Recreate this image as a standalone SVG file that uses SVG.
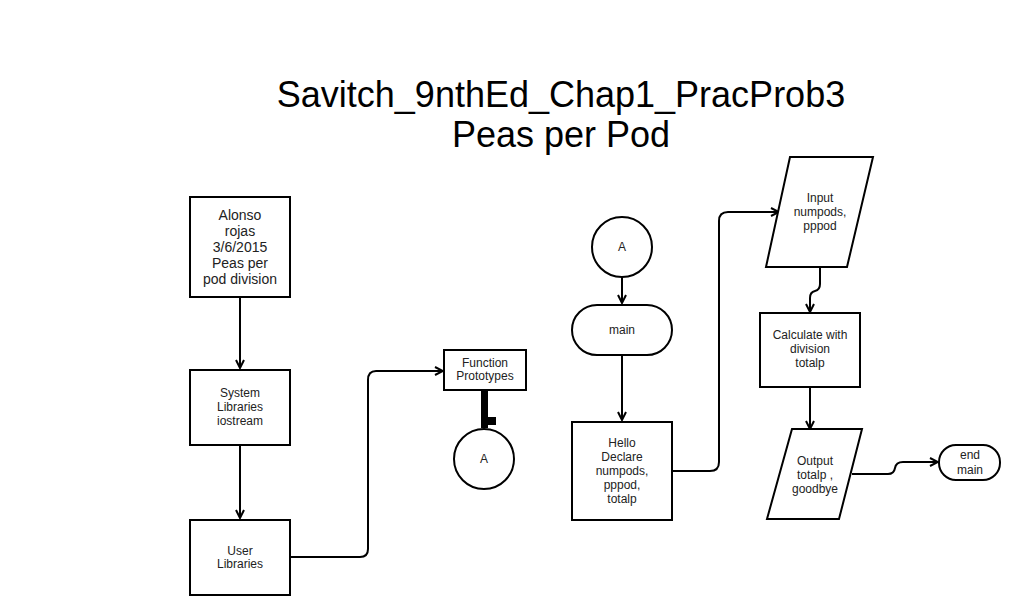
<svg xmlns="http://www.w3.org/2000/svg" width="1026" height="615" viewBox="0 0 1026 615">
<defs>
<style>
.n{fill:#fff;stroke:#000;stroke-width:2}
.t{font-family:"Liberation Sans",Arial,sans-serif;font-size:12px;fill:#222;text-anchor:middle}
.t2{font-family:"Liberation Sans",Arial,sans-serif;font-size:14px;fill:#222;text-anchor:middle}
.title{font-family:"Liberation Sans",Arial,sans-serif;font-size:36px;fill:#000;text-anchor:middle}
.c{fill:none;stroke:#000;stroke-width:2}
</style>
<marker id="ah" viewBox="0 0 10 10" refX="9" refY="5" markerWidth="10" markerHeight="10" markerUnits="userSpaceOnUse" orient="auto">
<path d="M1,1 L9,5 L1,9" fill="none" stroke="#000" stroke-width="2"/>
</marker>
</defs>
<rect width="1026" height="615" fill="#fff"/>
<text class="title" x="561" y="107">Savitch_9nthEd_Chap1_PracProb3</text>
<text class="title" x="561" y="147">Peas per Pod</text>

<g id="connectors">
<path class="c" d="M240,297 V368" marker-end="url(#ah)"/>
<path class="c" d="M240,445 V518" marker-end="url(#ah)"/>
<path class="c" d="M290,557 H360 Q368,557 368,549 V380 Q368,371 376,371 H443" marker-end="url(#ah)"/>
<rect x="481" y="390" width="7" height="38" fill="#000"/>
<rect x="487" y="417" width="9" height="8" fill="#000"/>
<path class="c" d="M622,277 V303" marker-end="url(#ah)"/>
<path class="c" d="M622,355 V420" marker-end="url(#ah)"/>
<path class="c" d="M672,471 H710 Q719,471 719,462 V221 Q719,212 728,212 H779" marker-end="url(#ah)"/>
<path class="c" d="M820,267 V284 Q820,290 815,291 Q810,292 810,298 V312" marker-end="url(#ah)"/>
<path class="c" d="M810,387 V429" marker-end="url(#ah)"/>
<path class="c" d="M852,474 H888 Q894,474 895,468 Q896,462 903,462 H938" marker-end="url(#ah)"/>
</g>

<g id="n-header">
<rect class="n" x="190" y="197" width="100" height="100"/>
<text class="t2" x="240" y="220">Alonso</text>
<text class="t2" x="240" y="236">rojas</text>
<text class="t2" x="240" y="252">3/6/2015</text>
<text class="t2" x="240" y="268">Peas per</text>
<text class="t2" x="240" y="284">pod division</text>
</g>
<g id="n-syslib">
<rect class="n" x="190" y="370" width="100" height="75"/>
<text class="t" x="240" y="397">System</text>
<text class="t" x="240" y="411">Libraries</text>
<text class="t" x="240" y="425">iostream</text>
</g>
<g id="n-userlib">
<rect class="n" x="190" y="520" width="100" height="75"/>
<text class="t" x="240" y="555">User</text>
<text class="t" x="240" y="568">Libraries</text>
</g>
<g id="n-proto">
<rect class="n" x="444" y="350" width="82" height="40"/>
<text class="t" x="485" y="367">Function</text>
<text class="t" x="485" y="380">Prototypes</text>
</g>
<g id="n-a1">
<circle class="n" cx="484" cy="459" r="30"/>
<text class="t" x="484" y="463">A</text>
</g>
<g id="n-a2">
<circle class="n" cx="622" cy="247" r="30"/>
<text class="t" x="622" y="251">A</text>
</g>
<g id="n-main">
<rect class="n" x="572" y="305" width="100" height="50" rx="25" ry="25"/>
<text class="t" x="622" y="334">main</text>
</g>
<g id="n-hello">
<rect class="n" x="572" y="422" width="100" height="98"/>
<text class="t" x="622" y="447">Hello</text>
<text class="t" x="622" y="461">Declare</text>
<text class="t" x="622" y="475">numpods,</text>
<text class="t" x="622" y="489">pppod,</text>
<text class="t" x="622" y="503">totalp</text>
</g>
<g id="n-input">
<polygon class="n" points="790,157 873,157 847,267 766,267"/>
<text class="t" x="820" y="202">Input</text>
<text class="t" x="820" y="216">numpods,</text>
<text class="t" x="820" y="230">pppod</text>
</g>
<g id="n-calc">
<rect class="n" x="760" y="313" width="100" height="74"/>
<text class="t" x="810" y="339">Calculate with</text>
<text class="t" x="810" y="353">division</text>
<text class="t" x="810" y="367">totalp</text>
</g>
<g id="n-output">
<polygon class="n" points="792,429 862,429 839,519 767,519"/>
<text class="t" x="815" y="465">Output</text>
<text class="t" x="815" y="479">totalp ,</text>
<text class="t" x="815" y="493">goodbye</text>
</g>
<g id="n-end">
<rect class="n" x="939" y="445" width="61" height="35" rx="17" ry="17"/>
<text class="t" x="970" y="459">end</text>
<text class="t" x="970" y="474">main</text>
</g>
</svg>
